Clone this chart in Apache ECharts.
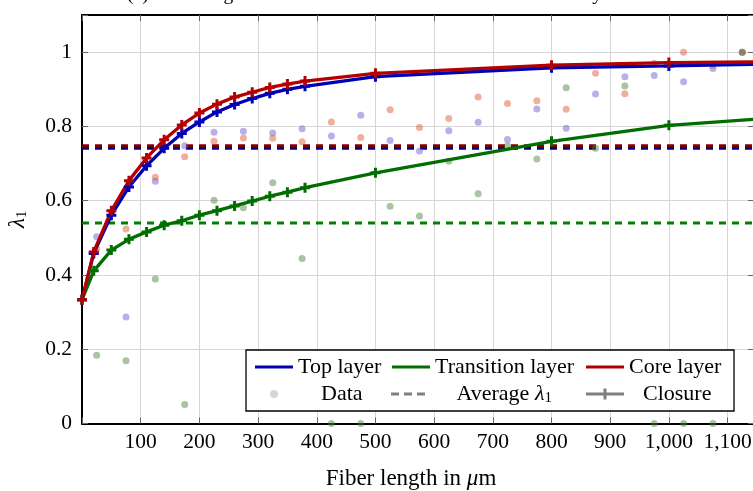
<!DOCTYPE html>
<html><head><meta charset="utf-8">
<script src="https://cdn.jsdelivr.net/npm/echarts@6/dist/echarts.min.js"></script>
<style>html,body{margin:0;padding:0;background:#fff}#c{width:753px;height:491px}</style>
</head><body><div id="c"></div>
<script>
// ---- data ----
const closureX = [0,20,50,80,110,140,170,200,230,260,290,320,350,380,500,800,1000,1200];
const topClosure   = [0.333,0.458,0.561,0.637,0.694,0.741,0.781,0.812,0.839,0.859,0.875,0.889,0.900,0.908,0.934,0.958,0.963,0.969];
const transClosure = [0.333,0.411,0.467,0.496,0.516,0.534,0.546,0.561,0.573,0.586,0.599,0.612,0.623,0.635,0.675,0.760,0.803,0.825];
const coreClosure  = [0.333,0.462,0.573,0.654,0.715,0.764,0.804,0.836,0.860,0.879,0.892,0.905,0.914,0.922,0.943,0.965,0.972,0.974];
const binX = [25,75,125,175,225,275,325,375,425,475,525,575,625,675,725,775,825,875,925,975,1025,1075,1125];
const topData   = [0.503,0.287,0.652,0.748,0.784,0.787,0.782,0.794,0.774,0.830,0.762,0.734,0.788,0.811,0.765,0.847,0.795,0.887,0.934,0.937,0.920,0.956,1.0];
const transData = [0.184,0.169,0.389,0.051,0.601,0.581,0.648,0.444,0.0,0.0,0.585,0.559,0.706,0.619,0.748,0.712,0.904,0.741,0.909,0.0,0.0,0.0,1.0];
const coreData  = [0.470,0.524,0.663,0.718,0.760,0.769,0.768,0.759,0.812,0.770,0.845,0.797,0.821,0.879,0.862,0.869,0.846,0.943,0.888,0.970,1.0,0.965,1.0];
const avgLambda = {top:0.741, trans:0.540, core:0.748};
const xTicks = [100,200,300,400,500,600,700,800,900,1000,1100];
const yTicks = [0,0.2,0.4,0.6,0.8,1];
const X_MIN = 0, X_MAX = 1145, Y_MIN = 0, Y_MAX = 1.1;

// ---- style ----
const FONT = 'Liberation Serif';
const C = {top:'#0000b4', trans:'#006e00', core:'#b40000',
           topAvg:'#000080', transAvg:'#008000', coreAvg:'#800000',
           topDot:'rgba(110,90,210,0.6)', transDot:'rgba(80,130,60,0.6)', coreDot:'rgba(220,90,50,0.6)'};
const PLUS = 'path://M3.5,0h3v3.5h3.5v3h-3.5v3.5h-3v-3.5h-3.5v-3h3.5z';
const ICON_DASH = 'path://M0,0h8v3h-8zM13,0h8v3h-8zM26,0h8v3h-8z';
const ICON_CLOSURE = 'path://M0,4.5h38v3h-38zM17.5,0.5h3v11h-3zM14,4.5h10v3h-10z';

const pairs = (xs, ys) => xs.map((x,i)=>[x, ys[i]]);
function closure(name, ys, color){
  return {name, type:'line', data:pairs(closureX, ys), symbol:PLUS, symbolSize:10, showSymbol:true,
    lineStyle:{color, width:3.3}, itemStyle:{color}, z:5, animation:false};
}
function dots(name, ys, color){
  return {name, type:'scatter', data:pairs(binX, ys), symbol:'circle', symbolSize:7,
    itemStyle:{color}, z:4, animation:false};
}
function avg(name, v, color){
  return {name, type:'line', data:[[X_MIN, v],[X_MAX+20, v]], symbol:'none',
    lineStyle:{color, width:3, type:[7,6]}, z:3, animation:false};
}
const LFS = 22, TFS = 21.5;
const textBase = {fontFamily:FONT, fontSize:LFS, color:'#000'};
function leg(name, left, top, extra){
  return Object.assign({data:[name], left, top, orient:'horizontal', itemWidth:38, itemHeight:3,
    padding:0, selectedMode:false, z:60, textStyle:Object.assign({}, textBase)}, extra||{});
}
const rich = {l:{fontFamily:FONT, fontStyle:'italic', fontSize:LFS, color:'#000'},
              s:{fontFamily:FONT, fontSize:15, color:'#000', padding:[9,0,0,0]}};
const richName = {l:{fontFamily:FONT, fontStyle:'italic', fontSize:23, color:'#000'},
              s:{fontFamily:FONT, fontSize:15, color:'#000', padding:[9,0,0,0]}};

const chart = echarts.init(document.getElementById('c'), null, {renderer:'canvas'});
const axisCommon = {min:X_MIN, max:X_MAX, interval:100};
chart.setOption({
  animation:false,
  backgroundColor:'#fff',
  title:{text:'(c) Fiber length distribution and mean orientation in each layer', left:127, top:-15, padding:0,
    textStyle:{fontFamily:FONT, fontSize:19.5, fontWeight:'normal', color:'#000'}},
  grid:{left:82, top:15, width:672, height:408.5, containLabel:false, outerBoundsMode:'none'},
  xAxis:[
    Object.assign({type:'value', position:'bottom',
      name:'{n|Fiber length in }{i|μ}{n|m}', nameLocation:'middle', nameGap:44,
      nameTextStyle:{padding:[0,14,0,0], rich:{n:{fontFamily:FONT,fontSize:23,color:'#000'}, i:{fontFamily:FONT,fontStyle:'italic',fontSize:23,color:'#000'}}},
      axisLine:{show:true, onZero:false, lineStyle:{color:'#000', width:2}},
      axisTick:{show:true, inside:true, length:6, lineStyle:{color:'#666', width:1}},
      axisLabel:{margin:8, fontFamily:FONT, fontSize:TFS, color:'#000',
        formatter:v => xTicks.includes(v) ? v.toLocaleString('en-US') : ''},
      splitLine:{show:true, lineStyle:{color:'#d6d6d6', width:1}}
    }, axisCommon),
    Object.assign({type:'value', position:'top',
      axisLine:{show:true, onZero:false, lineStyle:{color:'#000', width:2}},
      axisTick:{show:true, inside:true, length:6, lineStyle:{color:'#666', width:1}},
      axisLabel:{show:false}, splitLine:{show:false}
    }, axisCommon)
  ],
  yAxis:[
    {type:'value', min:Y_MIN, max:Y_MAX, interval:0.2, position:'left',
      name:'{l|λ}{s|1}', nameLocation:'middle', nameGap:52, nameRotate:90,
      nameTextStyle:{rich:richName},
      axisLine:{show:true, onZero:false, lineStyle:{color:'#000', width:2}},
      axisTick:{show:true, inside:true, length:6, lineStyle:{color:'#666', width:1}},
      axisLabel:{margin:10, fontFamily:FONT, fontSize:TFS, color:'#000',
        formatter:v => { const r = Math.round(v*10)/10; return yTicks.includes(r) && Math.abs(v-r)<1e-6 ? String(r) : ''; }},
      splitLine:{show:true, lineStyle:{color:'#d6d6d6', width:1}}},
    {type:'value', min:Y_MIN, max:Y_MAX, interval:0.2, position:'right',
      axisLine:{show:true, onZero:false, lineStyle:{color:'#000', width:2}},
      axisTick:{show:true, inside:true, length:6, lineStyle:{color:'#666', width:1}},
      axisLabel:{show:false}, splitLine:{show:false}}
  ],
  graphic:{elements:[{type:'rect', z:50, shape:{x:246, y:350, width:488, height:61},
    style:{fill:'#fff', stroke:'#000', lineWidth:1.3}}]},
  legend:[
    leg('Top layer', 255, 356, {icon:'rect'}),
    leg('Transition layer', 392, 356, {icon:'rect'}),
    leg('Core layer', 586, 356, {icon:'rect'}),
    leg('Data', 270, 383, {icon:'circle', itemWidth:8, itemHeight:8, textStyle:Object.assign({}, textBase, {padding:[0,0,0,38]})}),
    leg('Average λ1', 391, 383, {icon:ICON_DASH, itemWidth:35, formatter:()=>'Average {l|λ}{s|1}',
      textStyle:Object.assign({}, textBase, {padding:[0,0,0,26], rich})}),
    leg('Closure', 586, 383, {icon:ICON_CLOSURE, itemHeight:11, textStyle:Object.assign({}, textBase, {padding:[0,0,0,14]})})
  ],
  series:[
    avg('Top avg', avgLambda.top, C.topAvg),
    avg('Core avg', avgLambda.core, C.coreAvg),
    avg('Transition avg', avgLambda.trans, C.transAvg),
    dots('Top data', topData, C.topDot),
    dots('Core data', coreData, C.coreDot),
    dots('Transition data', transData, C.transDot),
    closure('Top layer', topClosure, C.top),
    closure('Transition layer', transClosure, C.trans),
    closure('Core layer', coreClosure, C.core),
    {name:'Data', type:'scatter', data:[], symbol:'circle', symbolSize:7, itemStyle:{color:'#cccccc'}},
    {name:'Average λ1', type:'line', data:[], symbol:'none', lineStyle:{color:'#808080', width:3, type:[7,6]}, itemStyle:{color:'#808080'}},
    {name:'Closure', type:'line', data:[], symbol:PLUS, symbolSize:10, lineStyle:{color:'#808080', width:3}, itemStyle:{color:'#808080'}}
  ]
});
</script></body></html>
